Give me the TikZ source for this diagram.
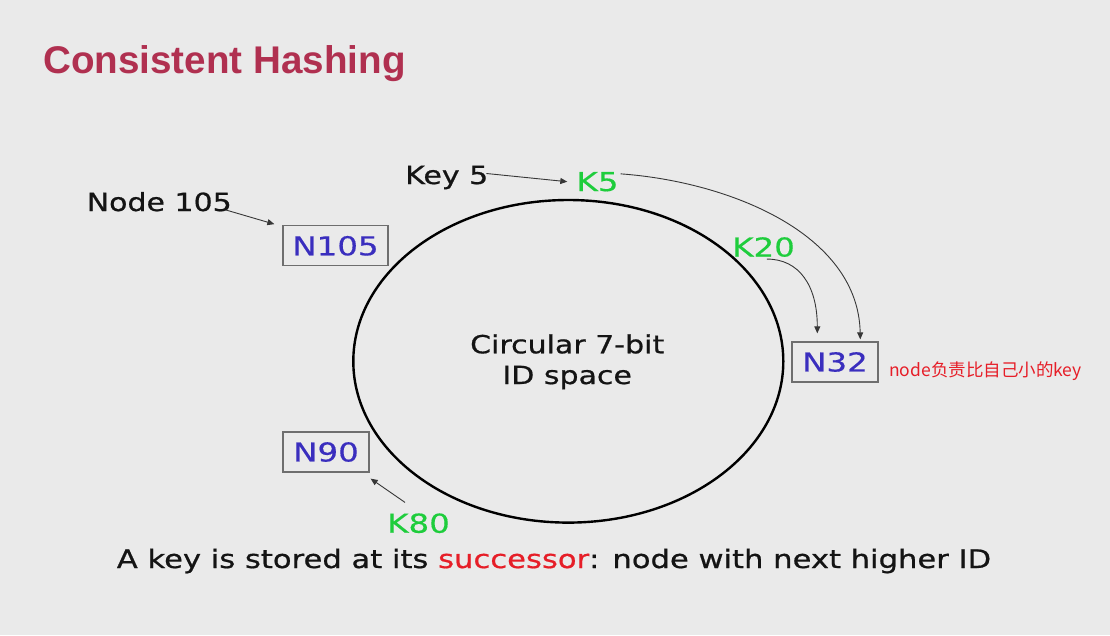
\documentclass[tikz,border=0pt]{standalone}
\usepackage{fontspec}
\setmainfont{DejaVu Sans}
\newfontfamily\bodyfont[FakeStretch=1.2,FakeBold=0.7]{DejaVu Sans}
\newfontfamily\labelfont[FakeStretch=1.25,FakeBold=0.5]{DejaVu Sans}
\newfontfamily\titlefont{Liberation Sans}
\newfontfamily\cjkfont{Noto Sans CJK SC}
\usetikzlibrary{arrows.meta,calc}

\definecolor{pagebg}{RGB}{234,234,234}
\definecolor{titlered}{RGB}{176,48,80}
\definecolor{nodeblue}{RGB}{58,46,190}
\definecolor{keygreen}{RGB}{30,205,60}
\definecolor{notered}{RGB}{230,30,40}
\definecolor{inkblack}{RGB}{20,20,20}
\definecolor{boxgray}{RGB}{110,110,110}
\definecolor{arrowgray}{RGB}{55,55,55}

\tikzset{
  titletext/.style={inner sep=0pt, anchor=base west, text=titlered,
    font=\titlefont\bfseries\fontsize{38.6}{44}\selectfont},
  bodytext/.style={inner sep=0pt, text=inkblack,
    font=\bodyfont\fontsize{25}{30}\selectfont},
  keytext/.style={inner sep=0pt, anchor=base west, text=keygreen,
    font=\labelfont\fontsize{26}{30}\selectfont},
  ringnode/.style={draw=boxgray, line width=1.3pt, inner sep=0pt,
    minimum width=86pt, minimum height=40pt, text=nodeblue,
    font=\labelfont\fontsize{26}{30}\selectfont},
  notetext/.style={inner sep=0pt, anchor=base west, text=notered,
    font=\cjkfont\fontsize{17.5}{20}\selectfont},
  ring/.style={draw=black, line width=2.4pt},
  pointer/.style={draw=arrowgray, line width=0.9pt,
    -{Triangle[length=7pt,width=6pt]}},
}

\begin{document}
\begin{tikzpicture}[x=1pt,y=-1pt]
  % page
  \fill[pagebg] (0,0) rectangle (1110,635);
  \useasboundingbox (0,0) rectangle (1110,635);

  % heading
  \node[titletext] (title) at (43,73.5) {Consistent Hashing};

  % identifier ring
  \draw[ring] (568.3,361.3) ellipse [x radius=215, y radius=161.3];
  \node[bodytext, anchor=base] (ringa) at (567.2,353.3) {Circular 7-bit};
  \node[bodytext, anchor=base] (ringb) at (567.2,384) {ID space};

  % nodes on the ring
  \node[ringnode, minimum width=105pt] (n105) at (335.5,245.8) {N105};
  \node[ringnode] (n32) at (835,362) {N32};
  \node[ringnode] (n90) at (326,452) {N90};

  % keys on the ring
  \node[keytext] (k5) at (576.3,191) {K5};
  \node[keytext] (k20) at (732,256.5) {K20};
  \node[keytext] (k80) at (387,532.7) {K80};

  % callouts
  \node[bodytext, anchor=base west] (nodelbl) at (86.5,211) {Node 105};
  \node[bodytext, anchor=base west] (keylbl) at (405,184) {Key 5};
  \node[notetext] (note) at (889,376) {node负责比自己小的key};

  % caption
  \node[bodytext, anchor=base, font=\bodyfont\fontsize{25.5}{30}\selectfont]
    (caption) at (554,568)
    {A key is stored at its \textcolor{notered}{successor}: node with next higher ID};

  % pointers
  \draw[pointer] ($(nodelbl.base east)+(-6,-1)$) -- ($(n105.north west)+(-8,-1)$);
  \draw[pointer] ($(keylbl.east)+(-2,-4)$) -- ($(k5.west)+(-9,0)$);
  \draw[pointer] ($(k5.north east)+(2,2)$)
    .. controls +(110,8) and +(-2,-105) .. ($(n32.north)+(25.3,-2)$);
  \draw[pointer] ($(k20.south)+(3.4,2)$)
    .. controls +(32,0) and +(0,-48) .. ($(n32.north)+(-17.7,-8)$);
  \draw[pointer] ($(k80.north west)+(18,-10.8)$) -- ($(n90.south east)+(1,6)$);
\end{tikzpicture}
\end{document}
